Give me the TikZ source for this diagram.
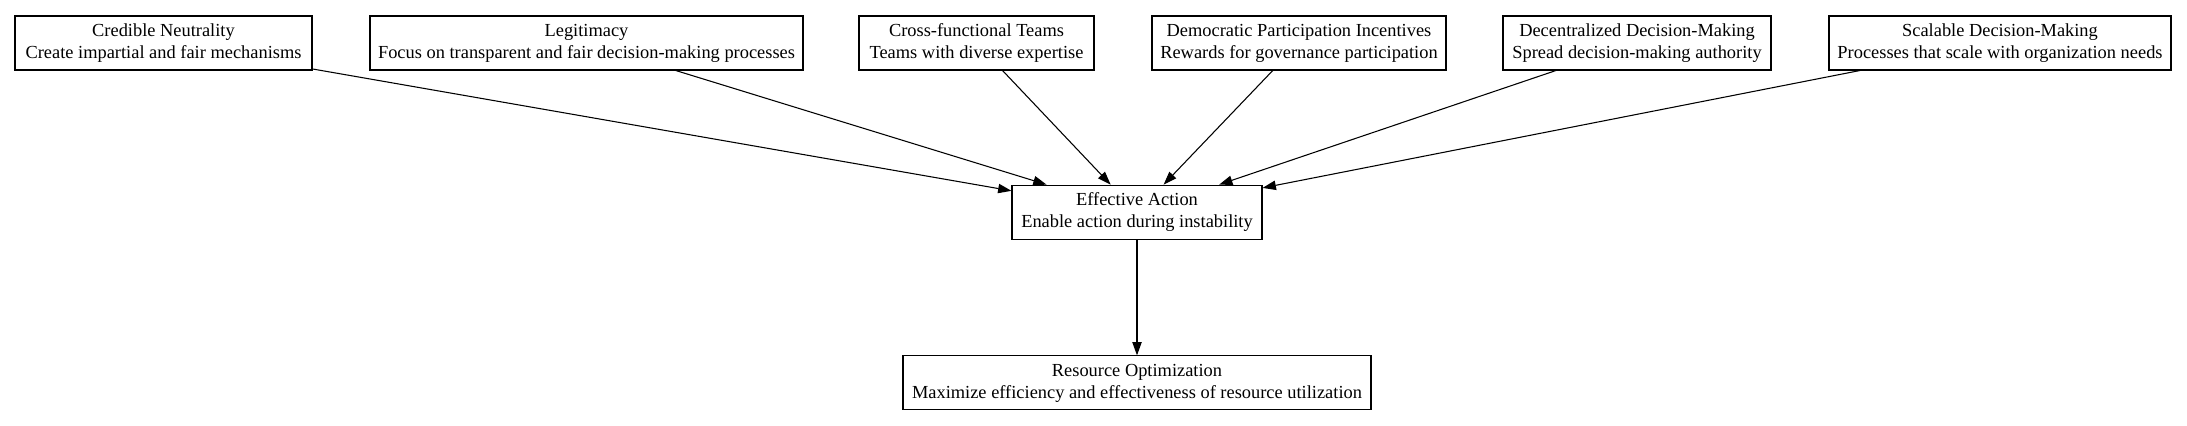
\documentclass[tikz,border=0pt]{standalone}
\usepackage{fontspec}
\setmainfont{Liberation Serif}
\usetikzlibrary{positioning,arrows.meta}

\begin{document}
\begin{tikzpicture}[x=0.75pt,y=-0.75pt,
  box/.style={draw,rectangle,align=center,font=\fontsize{13.8}{16.5}\selectfont,
    minimum height=40.5pt,inner xsep=2pt,line width=0.8pt},
  flow/.style={-{Triangle[length=10pt,width=7pt]},line width=0.8pt}]
\useasboundingbox (0,0) rectangle (2187,425);
% top row
\node[box,minimum width=222.75pt] (cn) at (163.5,43) {Credible Neutrality\\Create impartial and fair mechanisms};
\node[box,minimum width=324.75pt] (legit) at (586.5,43) {Legitimacy\\Focus on transparent and fair decision-making processes};
\node[box,minimum width=176.25pt] (teams) at (976.5,43) {Cross-functional Teams\\Teams with diverse expertise};
\node[box,minimum width=220.5pt] (demo) at (1299,43) {Democratic Participation Incentives\\Rewards for governance participation};
\node[box,minimum width=201pt] (decen) at (1637,43) {Decentralized Decision-Making\\Spread decision-making authority};
\node[box,minimum width=256.5pt] (scale) at (2000,43) {Scalable Decision-Making\\Processes that scale with organization needs};
% middle and bottom
\node[box,minimum width=187.5pt,minimum height=41pt] (eff) at (1137,212.5) {Effective Action\\Enable action during instability};
\node[box,minimum width=351pt,below=86.25pt of eff] (res) {Resource Optimization\\Maximize efficiency and effectiveness of resource utilization};

\draw[flow] (cn) -- (eff);
\draw[flow] (legit) -- (eff);
\draw[flow] (teams) -- (eff);
\draw[flow] (demo) -- (eff);
\draw[flow] (decen) -- (eff);
\draw[flow] (scale) -- (eff);
\draw[flow] (eff) -- (res);
\end{tikzpicture}
\end{document}
